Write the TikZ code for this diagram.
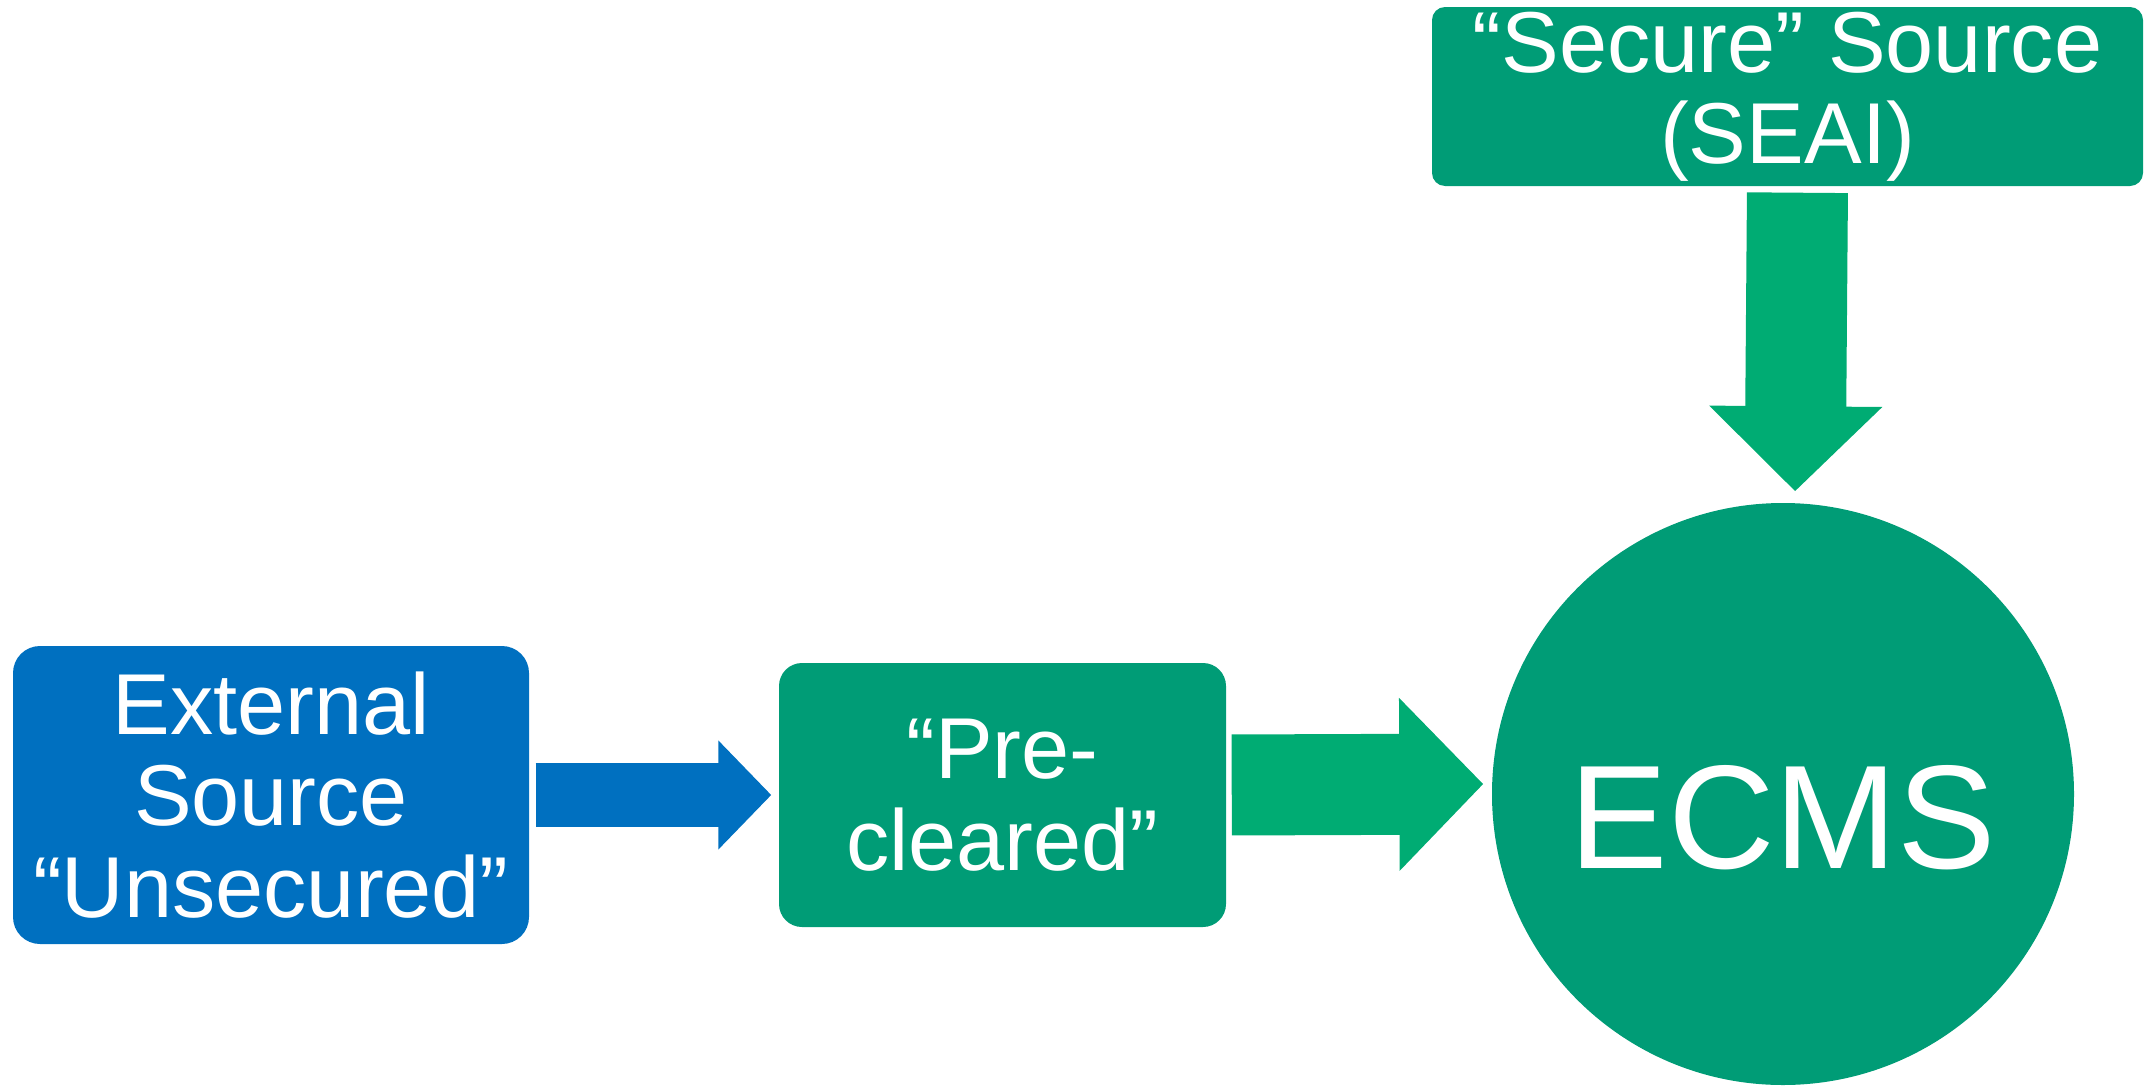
\documentclass[tikz,border=0pt]{standalone}
\usepackage{fontspec}
\setmainfont{Liberation Sans}
\usetikzlibrary{arrows.meta}
\definecolor{srcblue}{RGB}{0,112,192}
\definecolor{boxgreen}{RGB}{0,156,118}
\definecolor{arrowgreen}{RGB}{0,172,115}
\begin{document}
\begin{tikzpicture}[every node/.style={text=white, inner sep=0pt, align=center, font=\fontsize{24.6pt}{26pt}\selectfont}]
            \useasboundingbox (0,0) rectangle (21.44,10.87);
            \node[fill=srcblue, rounded corners=0.27cm, minimum width=5.16cm, minimum height=2.98cm] (external) at (2.71,2.92) {External\\Source\\“Unsecured”};
            \node[fill=boxgreen, rounded corners=0.23cm, minimum width=4.47cm, minimum height=2.64cm] (precleared) at (10.025,2.92) {“Pre-\\cleared”};
            \node[fill=boxgreen, rounded corners=0.13cm, minimum width=7.11cm, minimum height=1.79cm] (secure) at (17.875,9.905) {“Secure” Source\\(SEAI)};
            \node[circle, fill=boxgreen, minimum size=5.82cm, text height=1.48cm, text depth=0pt, font=\fontsize{42pt}{44pt}\selectfont] (ecms) at (17.83,2.93) {ECMS};
            \draw[srcblue, line width=0.64cm, -{Triangle[width=1.06cm, length=0.53cm]}, shorten <=0.06cm, shorten >=0.07cm] (external) -- (precleared);
            \draw[arrowgreen, line width=1.01cm, -{Triangle[width=1.68cm, length=0.84cm]}, shorten <=0.05cm, shorten >=0.08cm] ([yshift=0.1cm]precleared.east) -- ([yshift=0.1cm]ecms.west);
            \draw[arrowgreen, line width=1.01cm, -{Triangle[width=1.68cm, length=0.85cm]}, shorten <=0.06cm, shorten >=0.11cm] ([xshift=0.1cm]secure.south) -- ([xshift=0.12cm]ecms.north);
        \end{tikzpicture}
\end{document}
